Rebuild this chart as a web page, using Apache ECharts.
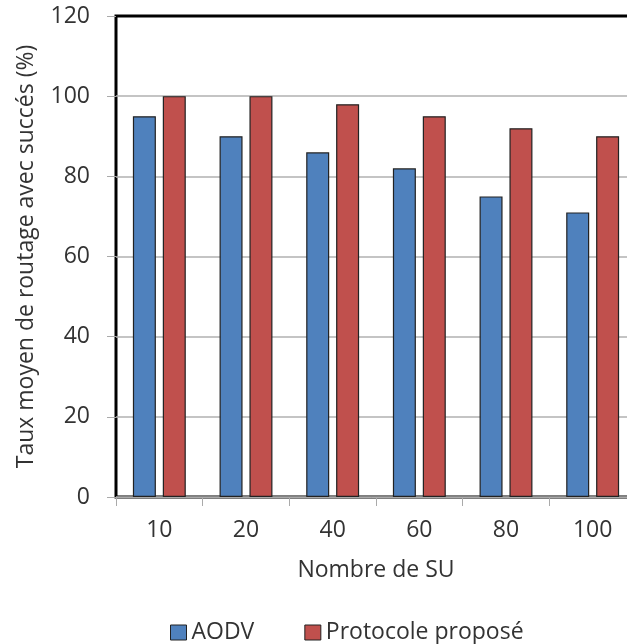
<!DOCTYPE html>
<html>
<head>
<meta charset="utf-8">
<script src="https://cdn.jsdelivr.net/npm/echarts@6/dist/echarts.min.js"></script>
<style>
html,body{margin:0;padding:0;background:#fff;}
#chart{width:627px;height:644px;}
</style>
</head>
<body>
<div id="chart"></div>
<script>
// Nombre de SU (x axis categories)
const categories = ['10', '20', '40', '60', '80', '100'];
// Taux moyen de routage avec succès (%)
const aodv = [95, 90, 86, 82, 75, 71];
const protocolePropose = [100, 100, 98, 95, 92, 90];
const seriesNames = ['AODV', 'Protocole proposé'];

const FONT = '"Open Sans", sans-serif';
const TEXT = '#333';
const SIZE = 23;
const GRID_GRAY = '#b0b0b0';

const chart = echarts.init(document.getElementById('chart'));
chart.setOption({
  animation: false,
  backgroundColor: '#fff',
  grid: {
    left: 116, width: 520, top: 16, height: 481,
    outerBoundsMode: 'none',
    show: true, borderColor: '#000', borderWidth: 3, backgroundColor: 'transparent'
  },
  legend: {
    data: seriesNames,
    left: 165, top: 616,
    icon: 'rect', itemWidth: 16, itemHeight: 15, itemGap: 50,
    itemStyle: { borderColor: '#222', borderWidth: 1 },
    textStyle: { fontFamily: FONT, fontSize: SIZE, color: TEXT }
  },
  xAxis: {
    type: 'category',
    data: categories,
    name: 'Nombre de SU',
    nameLocation: 'middle',
    nameGap: 62,
    nameTextStyle: { fontFamily: FONT, fontSize: SIZE, color: TEXT },
    axisLine: { show: true, lineStyle: { color: '#aaa', width: 1 } },
    axisTick: { show: true, length: 9, lineStyle: { color: '#aaa' } },
    axisLabel: { margin: 22, fontFamily: FONT, fontSize: SIZE, color: TEXT }
  },
  yAxis: {
    type: 'value',
    min: 0, max: 120, interval: 20,
    name: 'Taux moyen de routage avec succés (%)',
    nameLocation: 'middle',
    nameGap: 78,
    nameTextStyle: { fontFamily: FONT, fontSize: SIZE, color: TEXT },
    axisLine: { show: false },
    axisTick: { show: true, length: 9, lineStyle: { color: '#aaa' } },
    axisLabel: { margin: 26, fontFamily: FONT, fontSize: SIZE, color: TEXT },
    // the line at 120 coincides with the black frame, so it stays black
    splitLine: {
      show: true,
      lineStyle: {
        color: [GRID_GRAY, GRID_GRAY, GRID_GRAY, GRID_GRAY, GRID_GRAY, GRID_GRAY, '#000'],
        width: 1.5
      }
    }
  },
  series: [
    {
      name: seriesNames[0], type: 'bar', data: aodv,
      barWidth: 23, barGap: '30%',
      itemStyle: { color: '#4F81BD', borderColor: '#222', borderWidth: 1.2 }
    },
    {
      name: seriesNames[1], type: 'bar', data: protocolePropose,
      barWidth: 23, barGap: '30%',
      itemStyle: { color: '#C0504D', borderColor: '#222', borderWidth: 1.2 }
    }
  ]
});
</script>
</body>
</html>
